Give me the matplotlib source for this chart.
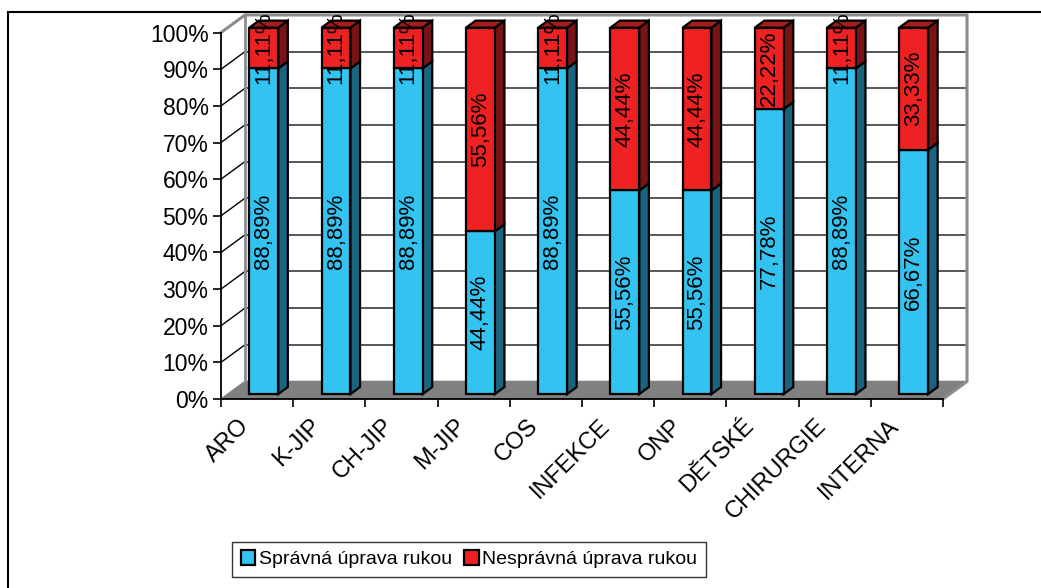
import matplotlib
matplotlib.use("Agg")
import matplotlib.pyplot as plt
from matplotlib.patches import Polygon, Rectangle

plt.rcParams['font.family'] = ['Liberation Sans', 'DejaVu Sans']

categories = ["ARO", "K-JIP", "CH-JIP", "M-JIP", "COS", "INFEKCE", "ONP",
              "DĚTSKÉ", "CHIRURGIE", "INTERNA"]
spravna = [88.89, 88.89, 88.89, 44.44, 88.89, 55.56, 55.56, 77.78, 88.89, 66.67]
nespravna = [11.11, 11.11, 11.11, 55.56, 11.11, 44.44, 44.44, 22.22, 11.11, 33.33]
series_names = ["Správná úprava rukou", "Nesprávná úprava rukou"]
y_ticks = list(range(0, 101, 10))

# 3-D look: depth offset of the back wall in data units
DX, DY = 0.332, 4.8
F0, F1 = 0.28, 0.68      # bar front / back position within the depth
W = 0.40                 # bar width in category units
LABEL_SHIFT = 0.16       # category labels sit slightly left of centre

BLUE, BLUE_SIDE, BLUE_TOP = "#33C3F0", "#1B6480", "#2590B5"
RED, RED_SIDE, RED_TOP = "#EE2222", "#7A1414", "#A81B1B"
BORDER = "#8C8C8C"
FS = 16

fig = plt.figure(figsize=(10.41, 5.88), dpi=100)
ax = fig.add_axes([221 / 1041, 189 / 588, 746 / 1041, 384 / 588])
ax.set_xlim(0, 10 + DX)
ax.set_ylim(0, 100 + DY)
ax.patch.set_visible(False)

# outer chart frame
fig.add_artist(Rectangle((8 / 1041, -0.05), 1.1, (588 - 12) / 588 + 0.05,
                         transform=fig.transFigure, fill=False,
                         edgecolor="black", lw=1.5))

n = len(categories)

# floor
ax.add_patch(Polygon([(0, 0), (n, 0), (n + DX, DY), (DX, DY)],
                     closed=True, facecolor="#808080", edgecolor="#808080",
                     lw=1, zorder=1))

# back-wall gridlines and side-wall diagonals
for v in y_ticks[1:-1]:
    ax.plot([DX, n + DX], [v + DY, v + DY], color="#2a2a2a", lw=1.1, zorder=1)
    ax.plot([0, DX], [v, v + DY], color="black", lw=1.0, zorder=1)

# wall borders
ax.plot([0, DX, n + DX, n + DX, n], [100, 100 + DY, 100 + DY, DY, 0],
        color=BORDER, lw=2.2, zorder=1, clip_on=False, solid_joinstyle="miter")
ax.plot([DX, DX], [DY, 100 + DY], color=BORDER, lw=2.0, zorder=1)

# front axis lines
ax.plot([0, 0], [0, 100], color="black", lw=1.3, zorder=2, clip_on=False)
ax.plot([0, n], [0, 0], color="black", lw=1.3, zorder=2, clip_on=False)


def fmt(v):
    return f"{v:.2f}".replace(".", ",") + "%"


edge = dict(edgecolor="black", lw=1.6, joinstyle="miter")
for i in range(n):
    x0 = i + 0.5 - W / 2
    x1 = x0 + W
    segs = [(0, spravna[i], BLUE, BLUE_SIDE, BLUE_TOP),
            (spravna[i], spravna[i] + nespravna[i], RED, RED_SIDE, RED_TOP)]
    for k, (b, t, fc, sc, tc) in enumerate(segs):
        # side face
        ax.add_patch(Polygon([(x1 + F0 * DX, b + F0 * DY), (x1 + F1 * DX, b + F1 * DY),
                              (x1 + F1 * DX, t + F1 * DY), (x1 + F0 * DX, t + F0 * DY)],
                             closed=True, facecolor=sc, zorder=3 + i, **edge))
        # front face
        ax.add_patch(Polygon([(x0 + F0 * DX, b + F0 * DY), (x1 + F0 * DX, b + F0 * DY),
                              (x1 + F0 * DX, t + F0 * DY), (x0 + F0 * DX, t + F0 * DY)],
                             closed=True, facecolor=fc, zorder=3 + i, **edge))
        if k == len(segs) - 1:
            ax.add_patch(Polygon([(x0 + F0 * DX, t + F0 * DY), (x1 + F0 * DX, t + F0 * DY),
                                  (x1 + F1 * DX, t + F1 * DY), (x0 + F1 * DX, t + F1 * DY)],
                                 closed=True, facecolor=tc, zorder=3 + i, **edge))
    for b, t in [(0, spravna[i]), (spravna[i], spravna[i] + nespravna[i])]:
        ax.text(i + 0.5 + F0 * DX, (b + t) / 2 + F0 * DY, fmt(t - b),
                rotation=90, ha="center", va="center", fontsize=FS,
                zorder=20, clip_on=True)

# axes, ticks and labels
for s in ax.spines.values():
    s.set_visible(False)
ax.set_yticks(y_ticks)
ax.set_yticklabels([f"{v}%" for v in y_ticks], fontsize=16.5)
ax.tick_params(axis="y", direction="out", length=6, width=1.2, pad=3)
ax.set_xticks(range(n + 1))
ax.set_xticklabels([])
ax.set_xticks([i + 0.5 - LABEL_SHIFT for i in range(n)], minor=True)
ax.set_xticklabels(categories, minor=True, fontsize=17, rotation=45,
                   ha="right", va="center", rotation_mode="anchor")
ax.tick_params(axis="x", which="major", direction="out", length=6, width=1.2)
ax.tick_params(axis="x", which="minor", length=0, pad=17)

handles = [Rectangle((0, 0), 1, 1, facecolor=BLUE, edgecolor="black", lw=1.6),
           Rectangle((0, 0), 1, 1, facecolor=RED, edgecolor="black", lw=1.6)]
leg = fig.legend(handles, series_names, loc="lower left",
                 bbox_to_anchor=(232 / 1041, 11 / 588), ncol=2, fontsize=14,
                 frameon=True, fancybox=False, edgecolor="black",
                 handlelength=0.75, handleheight=0.75, handletextpad=0.2,
                 columnspacing=0.6, borderpad=0.45, borderaxespad=0)
leg.get_frame().set_linewidth(1.0)

fig.savefig("out.png", dpi=100)
